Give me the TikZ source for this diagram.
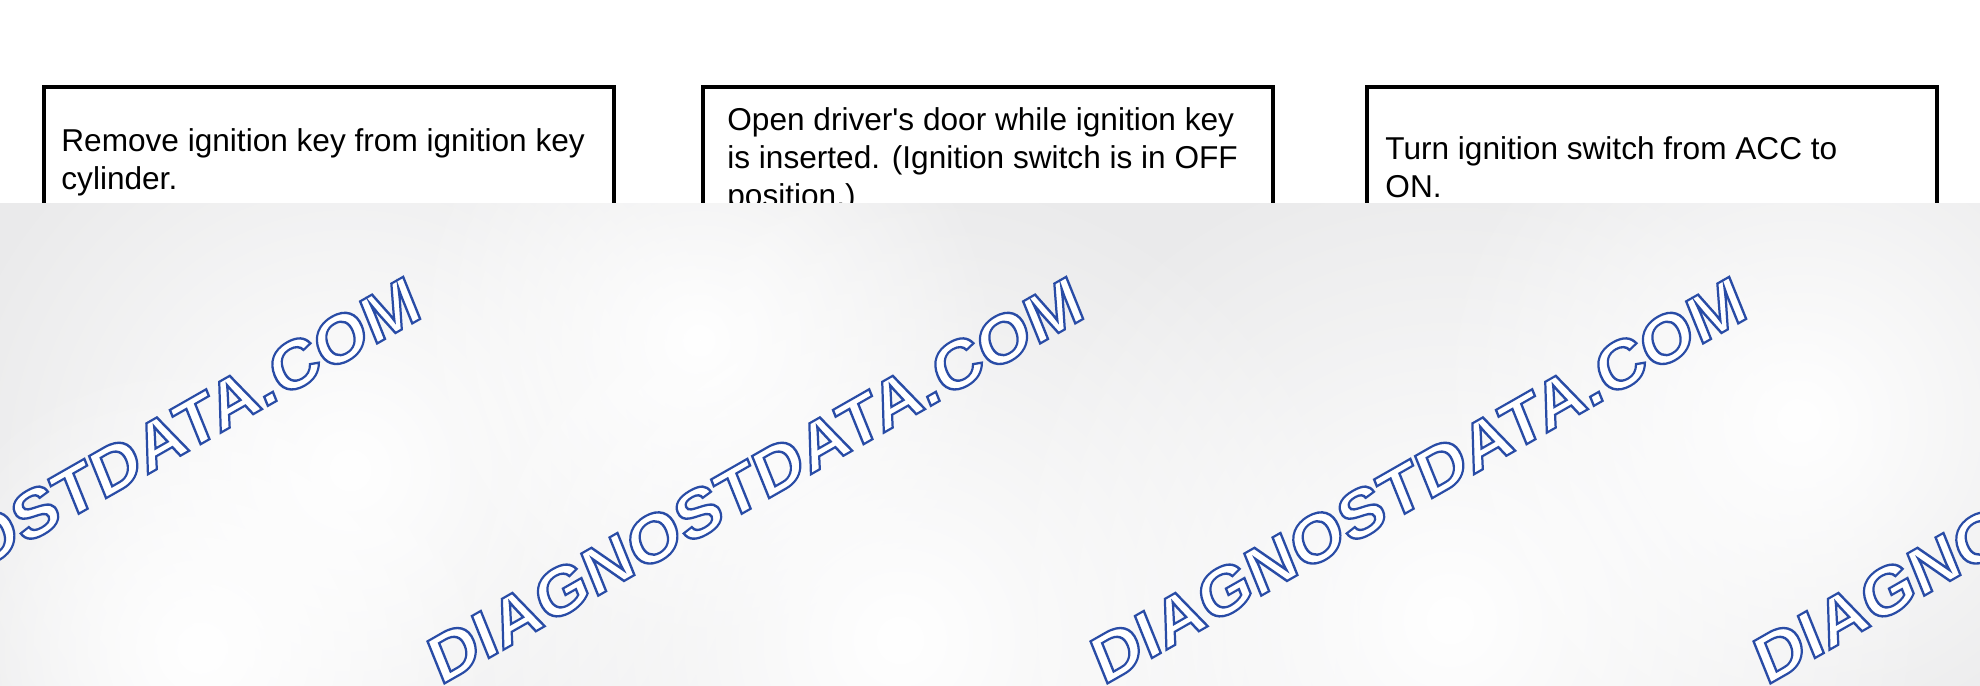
\documentclass[tikz,border=0pt]{standalone}
\usepackage{fontspec}
\setmainfont{Liberation Sans}
\usetikzlibrary{fadings}
\tikzfading[name=glowfade, inner color=transparent!0, outer color=transparent!100]
\definecolor{bggray}{RGB}{234,234,235}
\newcommand{\wmtext}{{\color{white}\special{pdf:literal direct 2 Tr 1.0 w 0.16 0.30 0.65 RG}DIAGNOSTDATA.COM\special{pdf:literal direct 0 Tr}}}
\begin{document}
\begin{tikzpicture}[x=0.5pt,y=-0.5pt,
  stepbox/.style={draw=black,line width=2pt,minimum width=285pt,minimum height=330pt,inner sep=0pt,anchor=north west},
  steptext/.style={anchor=base west,align=left,inner sep=0pt,font=\fontsize{15.8pt}{19pt}\selectfont},
  wmark/.style={anchor=base west,inner sep=0pt,cm={1.025,0.585,-0.412,1.02,(0,0)},font=\fontsize{30pt}{34pt}\selectfont\bfseries},
  glow/.style={white,path fading=glowfade}]
\useasboundingbox (0,0) rectangle (1980,685);
\fill[white] (0,0) rectangle (1980,685);
% boxes
\node[stepbox] (b1) at (42,85) {};
\node[stepbox] (b2) at (701,85) {};
\node[stepbox] (b3) at (1365,85) {};
\node[steptext] (t1) at (61,189) {Remove ignition key from ignition key\\cylinder.};
\node[steptext] (t2) at (727,206) {Open driver\textquotesingle s door while ignition key\\is inserted. (Ignition switch is in OFF\\position.)};
\node[steptext] (t3) at (1385,197) {Turn ignition switch from ACC to\\ON.};
% grey overlay
\fill[bggray] (-10,203) rectangle (1990,720);
\begin{scope}
  \clip (-10,203) rectangle (1990,720);
  \fill[glow] (350,470) circle (420);
  \fill[glow] (700,340) circle (300);
  \fill[glow] (900,640) circle (480);
  \fill[glow] (1450,620) circle (480);
  \fill[glow] (1800,420) circle (380);
  \fill[glow] (200,650) circle (300);
  \node[wmark] (w1) at (-223,686) {\wmtext};
  \node[wmark] (w2) at (440,686) {\wmtext};
  \node[wmark] (w3) at (1103,686) {\wmtext};
  \node[wmark] (w4) at (1766,686) {\wmtext};
\end{scope}
\end{tikzpicture}
\end{document}
